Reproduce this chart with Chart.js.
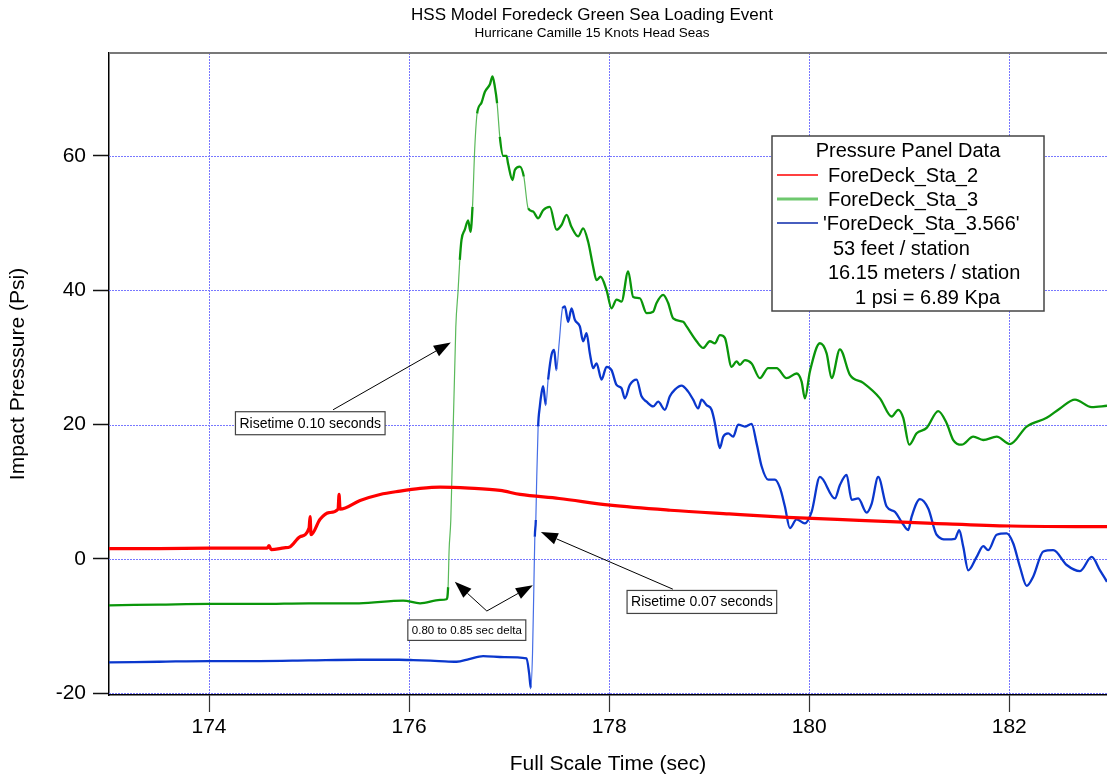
<!DOCTYPE html>
<html>
<head>
<meta charset="utf-8">
<title>HSS Model Foredeck Green Sea Loading Event</title>
<script src="https://cdn.jsdelivr.net/npm/chart.js@4.4.1/dist/chart.umd.min.js"></script>
<style>
  html, body { margin: 0; padding: 0; background: #fff; }
  #wrap { width: 1107px; height: 778px; }
</style>
</head>
<body>
<div id="wrap"><canvas id="greenSea" width="1107" height="778"></canvas></div>
<script>
// full scale time (s) and panel pressure (psi)
const sta2Time = [173.0, 173.5, 174.0, 174.5, 174.58, 174.6, 174.62, 174.75, 174.81, 174.91, 175.0, 175.01, 175.02,
  175.11, 175.2, 175.29, 175.3, 175.31, 175.51, 175.71, 175.91, 176.11, 176.31, 176.6, 176.91, 177.11, 177.5,
  178.01, 178.61, 179.2, 179.78, 180.5, 181.24, 182.01, 182.977];
const sta2Psi = [1.55, 1.55, 1.6, 1.6, 1.6, 2.0, 1.4, 1.65, 1.8, 3.3, 4.6, 6.3, 3.6,
  5.9, 6.9, 7.4, 9.6, 7.4, 8.7, 9.6, 10.1, 10.5, 10.7, 10.55, 10.2, 9.6, 9.0,
  8.0, 7.25, 6.7, 6.2, 5.75, 5.3, 4.9, 4.8];

const sta3Time = [173.0, 173.5, 174.0, 174.5, 175.0, 175.5, 175.94, 176.11, 176.31, 176.374, 176.39, 176.4, 176.417,
  176.467, 176.49, 176.507, 176.524, 176.557, 176.59, 176.614, 176.634, 176.657, 176.68, 176.724, 176.757, 176.807,
  176.834, 176.857, 176.88, 176.907, 176.94, 176.974, 176.99, 177.034, 177.057, 177.107, 177.147, 177.19, 177.24,
  177.29, 177.34, 177.407, 177.474, 177.524, 177.574, 177.624, 177.69, 177.74, 177.79, 177.84, 177.874, 177.914,
  177.974, 178.024, 178.074, 178.124, 178.19, 178.24, 178.307, 178.374, 178.44, 178.474, 178.54, 178.59, 178.64,
  178.74, 178.774, 178.874, 178.94, 179.007, 179.057, 179.107, 179.157, 179.224, 179.274, 179.307, 179.357, 179.424,
  179.507, 179.59, 179.674, 179.774, 179.874, 179.924, 179.957, 180.007, 180.107, 180.174, 180.224, 180.307, 180.407,
  180.54, 180.707, 180.824, 180.89, 180.94, 181.0, 181.074, 181.174, 181.29, 181.374, 181.44, 181.524, 181.64,
  181.74, 181.874, 182.007, 182.174, 182.374, 182.507, 182.657, 182.824, 182.977];
const sta3Psi = [-6.9, -6.8, -6.7, -6.7, -6.6, -6.6, -6.2, -6.6, -6.1, -6.0, -4.2, 1.3, 5.8,
  34.5, 40.0, 44.5, 47.5, 49.0, 50.4, 48.7, 52.4, 61.3, 66.3, 67.9, 69.5, 70.6,
  71.8, 70.3, 67.8, 62.8, 60.0, 60.0, 58.8, 56.4, 57.9, 58.4, 56.9, 52.2, 51.7,
  50.7, 51.9, 52.4, 49.0, 49.7, 51.2, 49.4, 48.0, 49.2, 47.2, 43.5, 41.5, 42.0,
  40.0, 37.3, 38.6, 38.3, 42.8, 39.0, 38.8, 36.6, 36.8, 38.1, 39.3, 38.1, 35.8,
  35.3, 34.6, 32.4, 31.4, 32.4, 32.1, 33.3, 32.9, 28.6, 29.4, 28.9, 29.6, 29.1,
  26.9, 28.4, 28.4, 26.9, 27.6, 26.4, 23.9, 27.9, 32.1, 30.6, 26.9, 31.2, 27.4,
  26.2, 23.9, 21.2, 22.2, 21.0, 17.0, 18.7, 19.5, 22.0, 20.2, 17.7, 17.0, 18.2,
  17.7, 18.2, 17.1, 19.7, 21.0, 22.4, 23.7, 22.6, 22.8];

const sta3566Time = [173.0, 173.5, 174.0, 174.5, 175.0, 175.5, 175.9, 176.04, 176.3, 176.474, 176.6, 176.74, 176.95,
  177.174, 177.2, 177.217, 177.234, 177.247, 177.257, 177.267, 177.274, 177.29, 177.307, 177.324, 177.34, 177.367,
  177.39, 177.424, 177.45, 177.474, 177.5, 177.534, 177.557, 177.59, 177.624, 177.657, 177.707, 177.74, 177.774,
  177.807, 177.84, 177.874, 177.924, 177.974, 178.024, 178.074, 178.124, 178.157, 178.207, 178.274, 178.324,
  178.374, 178.44, 178.49, 178.557, 178.607, 178.657, 178.724, 178.79, 178.84, 178.89, 178.924, 178.974, 179.024,
  179.057, 179.08, 179.107, 179.14, 179.19, 179.24, 179.29, 179.357, 179.424, 179.474, 179.524, 179.59, 179.657,
  179.707, 179.757, 179.807, 179.874, 179.957, 180.024, 180.107, 180.257, 180.307, 180.374, 180.424, 180.49,
  180.574, 180.624, 180.69, 180.774, 180.857, 180.924, 180.99, 181.024, 181.107, 181.19, 181.274, 181.374,
  181.457, 181.5, 181.54, 181.59, 181.674, 181.74, 181.79, 181.874, 181.974, 182.04, 182.107, 182.174, 182.24,
  182.34, 182.44, 182.574, 182.707, 182.824, 182.907, 182.977];
const sta3566Psi = [-15.4, -15.3, -15.2, -15.2, -15.1, -15.0, -15.0, -15.05, -15.2, -15.3, -14.9, -14.45, -14.6,
  -14.8, -17.0, -19.25, -14.05, -4.4, 3.3, 5.8, 10.7, 19.7, 22.7, 24.7, 25.7, 22.9,
  26.7, 30.4, 31.1, 28.1, 32.1, 37.3, 37.6, 35.3, 37.3, 35.6, 34.6, 32.4, 33.6,
  30.6, 28.4, 29.1, 26.7, 28.6, 28.1, 25.9, 25.4, 23.9, 25.9, 26.7, 24.2,
  23.4, 22.7, 23.4, 22.2, 24.2, 25.2, 25.8, 24.9, 23.7, 22.4, 23.7, 22.9, 22.2,
  20.2, 18.2, 16.5, 18.2, 18.7, 18.2, 20.0, 19.7, 20.1, 17.2, 13.8, 11.8, 11.8,
  10.6, 7.8, 4.6, 5.9, 5.3, 7.0, 12.2, 9.0, 11.0, 12.5, 8.8, 9.0,
  6.9, 8.2, 12.2, 7.8, 7.0, 5.5, 4.3, 6.3, 8.9, 7.5, 3.6, 2.9,
  3.0, 4.3, 1.8, -1.7, 0.3, 1.9, 1.3, 3.6, 3.8, 2.3, -1.2, -4.0, -2.6,
  1.1, 1.3, -0.9, -1.8, 0.3, -1.7, -3.4];

const xTicks = [174, 176, 178, 180, 182];
const yTicks = [-20, 0, 20, 40, 60];

const noteLines = ['53 feet / station', '16.15 meters / station', '1 psi = 6.89 Kpa'];

const FONT = '"Liberation Sans", Arial, Helvetica, sans-serif';

function pairs(times, vals) {
  return times.map((t, i) => ({ x: t, y: vals[i] }));
}

// the fast rise segments are drawn thin and light, like a sparse trace
function steep(ctx) {
  const dx = Math.abs(ctx.p1.x - ctx.p0.x), dy = Math.abs(ctx.p1.y - ctx.p0.y);
  return dy > 25 && dy > dx * 6;
}

function arrow(ctx, x0, y0, x1, y1) {
  const a = Math.atan2(y1 - y0, x1 - x0);
  const len = 17, half = 6;
  const bx = x1 - len * Math.cos(a), by = y1 - len * Math.sin(a);
  ctx.beginPath();
  ctx.moveTo(x0, y0);
  ctx.lineTo(bx, by);
  ctx.stroke();
  ctx.beginPath();
  ctx.moveTo(x1, y1);
  ctx.lineTo(bx + half * Math.sin(a), by - half * Math.cos(a));
  ctx.lineTo(bx - half * Math.sin(a), by + half * Math.cos(a));
  ctx.closePath();
  ctx.fill();
}

// callout boxes, anchored in data units (time, psi)
const callouts = [
  { text: 'Risetime 0.10 seconds', size: 14, at: [175.012, 20.2], from: [175.24, 22.2], to: [[176.417, 32.2]] },
  { text: '0.80 to 0.85 sec delta', size: 11.5, at: [176.577, -10.6], from: [176.777, -7.75], to: [[176.457, -3.4], [177.237, -3.9]] },
  { text: 'Risetime 0.07 seconds', size: 14, at: [178.927, -6.4], from: [178.637, -4.5], to: [[177.317, 4.0]] }
];

const decor = {
  id: 'decor',
  beforeDatasetsDraw(chart) {
    // dotted blue grid, drawn by hand so both directions get the same pen
    const { ctx, chartArea: area, scales: { x, y } } = chart;
    ctx.save();
    ctx.strokeStyle = 'rgb(120,120,255)';
    ctx.lineWidth = 1;
    ctx.setLineDash([2, 1]);
    xTicks.forEach(v => {
      const px = Math.round(x.getPixelForValue(v)) + 0.5;
      ctx.beginPath();
      ctx.moveTo(px, area.top);
      ctx.lineTo(px, area.bottom);
      ctx.stroke();
    });
    yTicks.forEach(v => {
      const py = Math.round(y.getPixelForValue(v)) + 0.5;
      ctx.beginPath();
      ctx.moveTo(area.left, py);
      ctx.lineTo(area.right, py);
      ctx.stroke();
    });
    ctx.restore();
  },
  afterDraw(chart) {
    const { ctx, chartArea: area, scales: { x, y } } = chart;
    ctx.save();

    // plot frame top edge
    ctx.strokeStyle = 'rgb(120,120,120)';
    ctx.lineWidth = 2;
    ctx.beginPath();
    ctx.moveTo(area.left, area.top);
    ctx.lineTo(area.right, area.top);
    ctx.stroke();

    // titles
    ctx.fillStyle = '#000';
    ctx.textAlign = 'center';
    ctx.textBaseline = 'middle';
    ctx.font = '17px ' + FONT;
    ctx.fillText('HSS Model Foredeck Green Sea Loading Event', 592, 15);
    ctx.font = '13.5px ' + FONT;
    ctx.fillText('Hurricane Camille 15 Knots Head Seas', 592, 33);

    // callouts
    ctx.lineWidth = 1;
    ctx.strokeStyle = '#000';
    ctx.fillStyle = '#000';
    callouts.forEach(c => {
      const fx = x.getPixelForValue(c.from[0]), fy = y.getPixelForValue(c.from[1]);
      c.to.forEach(t => arrow(ctx, fx, fy, x.getPixelForValue(t[0]), y.getPixelForValue(t[1])));
    });
    callouts.forEach(c => {
      ctx.font = c.size + 'px ' + FONT;
      const w = ctx.measureText(c.text).width + 8;
      const h = c.size + 9;
      const cx = x.getPixelForValue(c.at[0]), cy = y.getPixelForValue(c.at[1]);
      ctx.fillStyle = '#fff';
      ctx.fillRect(cx - w / 2, cy - h / 2, w, h);
      ctx.strokeStyle = '#444';
      ctx.lineWidth = 1.2;
      ctx.strokeRect(cx - w / 2, cy - h / 2, w, h);
      ctx.fillStyle = '#000';
      ctx.textAlign = 'center';
      ctx.fillText(c.text, cx, cy + 0.5);
    });

    // legend box
    const bx = 772, by = 136, bw = 272, bh = 175;
    ctx.fillStyle = '#fff';
    ctx.fillRect(bx, by, bw, bh);
    ctx.strokeStyle = '#444';
    ctx.lineWidth = 1.5;
    ctx.strokeRect(bx, by, bw, bh);
    ctx.fillStyle = '#000';
    ctx.font = '20px ' + FONT;
    ctx.textAlign = 'center';
    ctx.fillText('Pressure Panel Data', 908, 151);
    ctx.textAlign = 'left';
    const rowY = [175, 199, 223];
    const textX = [828, 828, 823];
    chart.data.datasets.forEach((ds, i) => {
      ctx.strokeStyle = ds.legendColor;
      ctx.lineWidth = ds.legendWidth;
      ctx.beginPath();
      ctx.moveTo(777, rowY[i]);
      ctx.lineTo(818, rowY[i]);
      ctx.stroke();
      ctx.fillStyle = '#000';
      ctx.fillText(ds.label, textX[i], rowY[i] + 1);
    });
    const noteX = [833, 828, 855];
    noteLines.forEach((s, i) => ctx.fillText(s, noteX[i], 248 + i * 24.5 + 1));

    ctx.restore();
  }
};

new Chart(document.getElementById('greenSea'), {
  type: 'line',
  data: {
    datasets: [
      {
        label: 'ForeDeck_Sta_2',
        data: pairs(sta2Time, sta2Psi),
        borderColor: 'rgb(255,0,0)',
        borderWidth: 3.2,
        legendColor: 'rgb(255,0,0)',
        legendWidth: 1.3
      },
      {
        label: 'ForeDeck_Sta_3',
        data: pairs(sta3Time, sta3Psi),
        borderColor: 'rgb(10,150,10)',
        borderWidth: 2.3,
        legendColor: 'rgb(110,200,110)',
        legendWidth: 3,
        segment: {
          borderWidth: c => steep(c) ? 1.2 : undefined,
          borderColor: c => steep(c) ? 'rgb(90,185,90)' : undefined
        }
      },
      {
        label: "'ForeDeck_Sta_3.566'",
        data: pairs(sta3566Time, sta3566Psi),
        borderColor: 'rgb(10,55,205)',
        borderWidth: 2.3,
        legendColor: 'rgb(10,40,170)',
        legendWidth: 1.3,
        segment: {
          borderWidth: c => steep(c) ? 1.2 : undefined,
          borderColor: c => steep(c) ? 'rgb(70,110,230)' : undefined
        }
      }
    ]
  },
  options: {
    responsive: false,
    animation: false,
    devicePixelRatio: 1,
    parsing: false,
    layout: { padding: { top: 53, right: 0, bottom: 0, left: 0 } },
    elements: {
      point: { radius: 0, hoverRadius: 0 },
      line: { cubicInterpolationMode: 'monotone', fill: false }
    },
    plugins: {
      legend: { display: false },
      title: { display: false },
      tooltip: { enabled: false }
    },
    scales: {
      x: {
        type: 'linear',
        position: 'bottom',
        min: 173,
        max: 182.977,
        afterFit: s => { s.height = 83; },
        afterBuildTicks: s => { s.ticks = xTicks.map(v => ({ value: v })); },
        ticks: {
          font: { family: FONT, size: 21 },
          color: '#000',
          padding: 3,
          maxRotation: 0,
          callback: v => String(v)
        },
        grid: {
          drawOnChartArea: false,
          tickLength: 17,
          tickColor: '#333',
          tickWidth: 1.2
        },
        border: { display: true, color: '#000', width: 1.5 },
        title: {
          display: true,
          text: 'Full Scale Time (sec)',
          color: '#000',
          font: { family: FONT, size: 21 },
          padding: { top: 0, bottom: 1 }
        }
      },
      y: {
        type: 'linear',
        min: -20.25,
        max: 75.3,
        afterFit: s => { s.width = 109; },
        afterBuildTicks: s => { s.ticks = yTicks.map(v => ({ value: v })); },
        ticks: {
          font: { family: FONT, size: 21 },
          color: '#000',
          padding: 7,
          callback: v => String(v)
        },
        grid: {
          drawOnChartArea: false,
          tickLength: 16,
          tickColor: '#111',
          tickWidth: 1.5
        },
        border: { display: true, color: '#000', width: 1.5 },
        title: {
          display: true,
          text: 'Impact Presssure (Psi)',
          color: '#000',
          font: { family: FONT, size: 21 },
          padding: { top: 6, bottom: 0 }
        }
      }
    }
  },
  plugins: [decor]
});
</script>
</body>
</html>
